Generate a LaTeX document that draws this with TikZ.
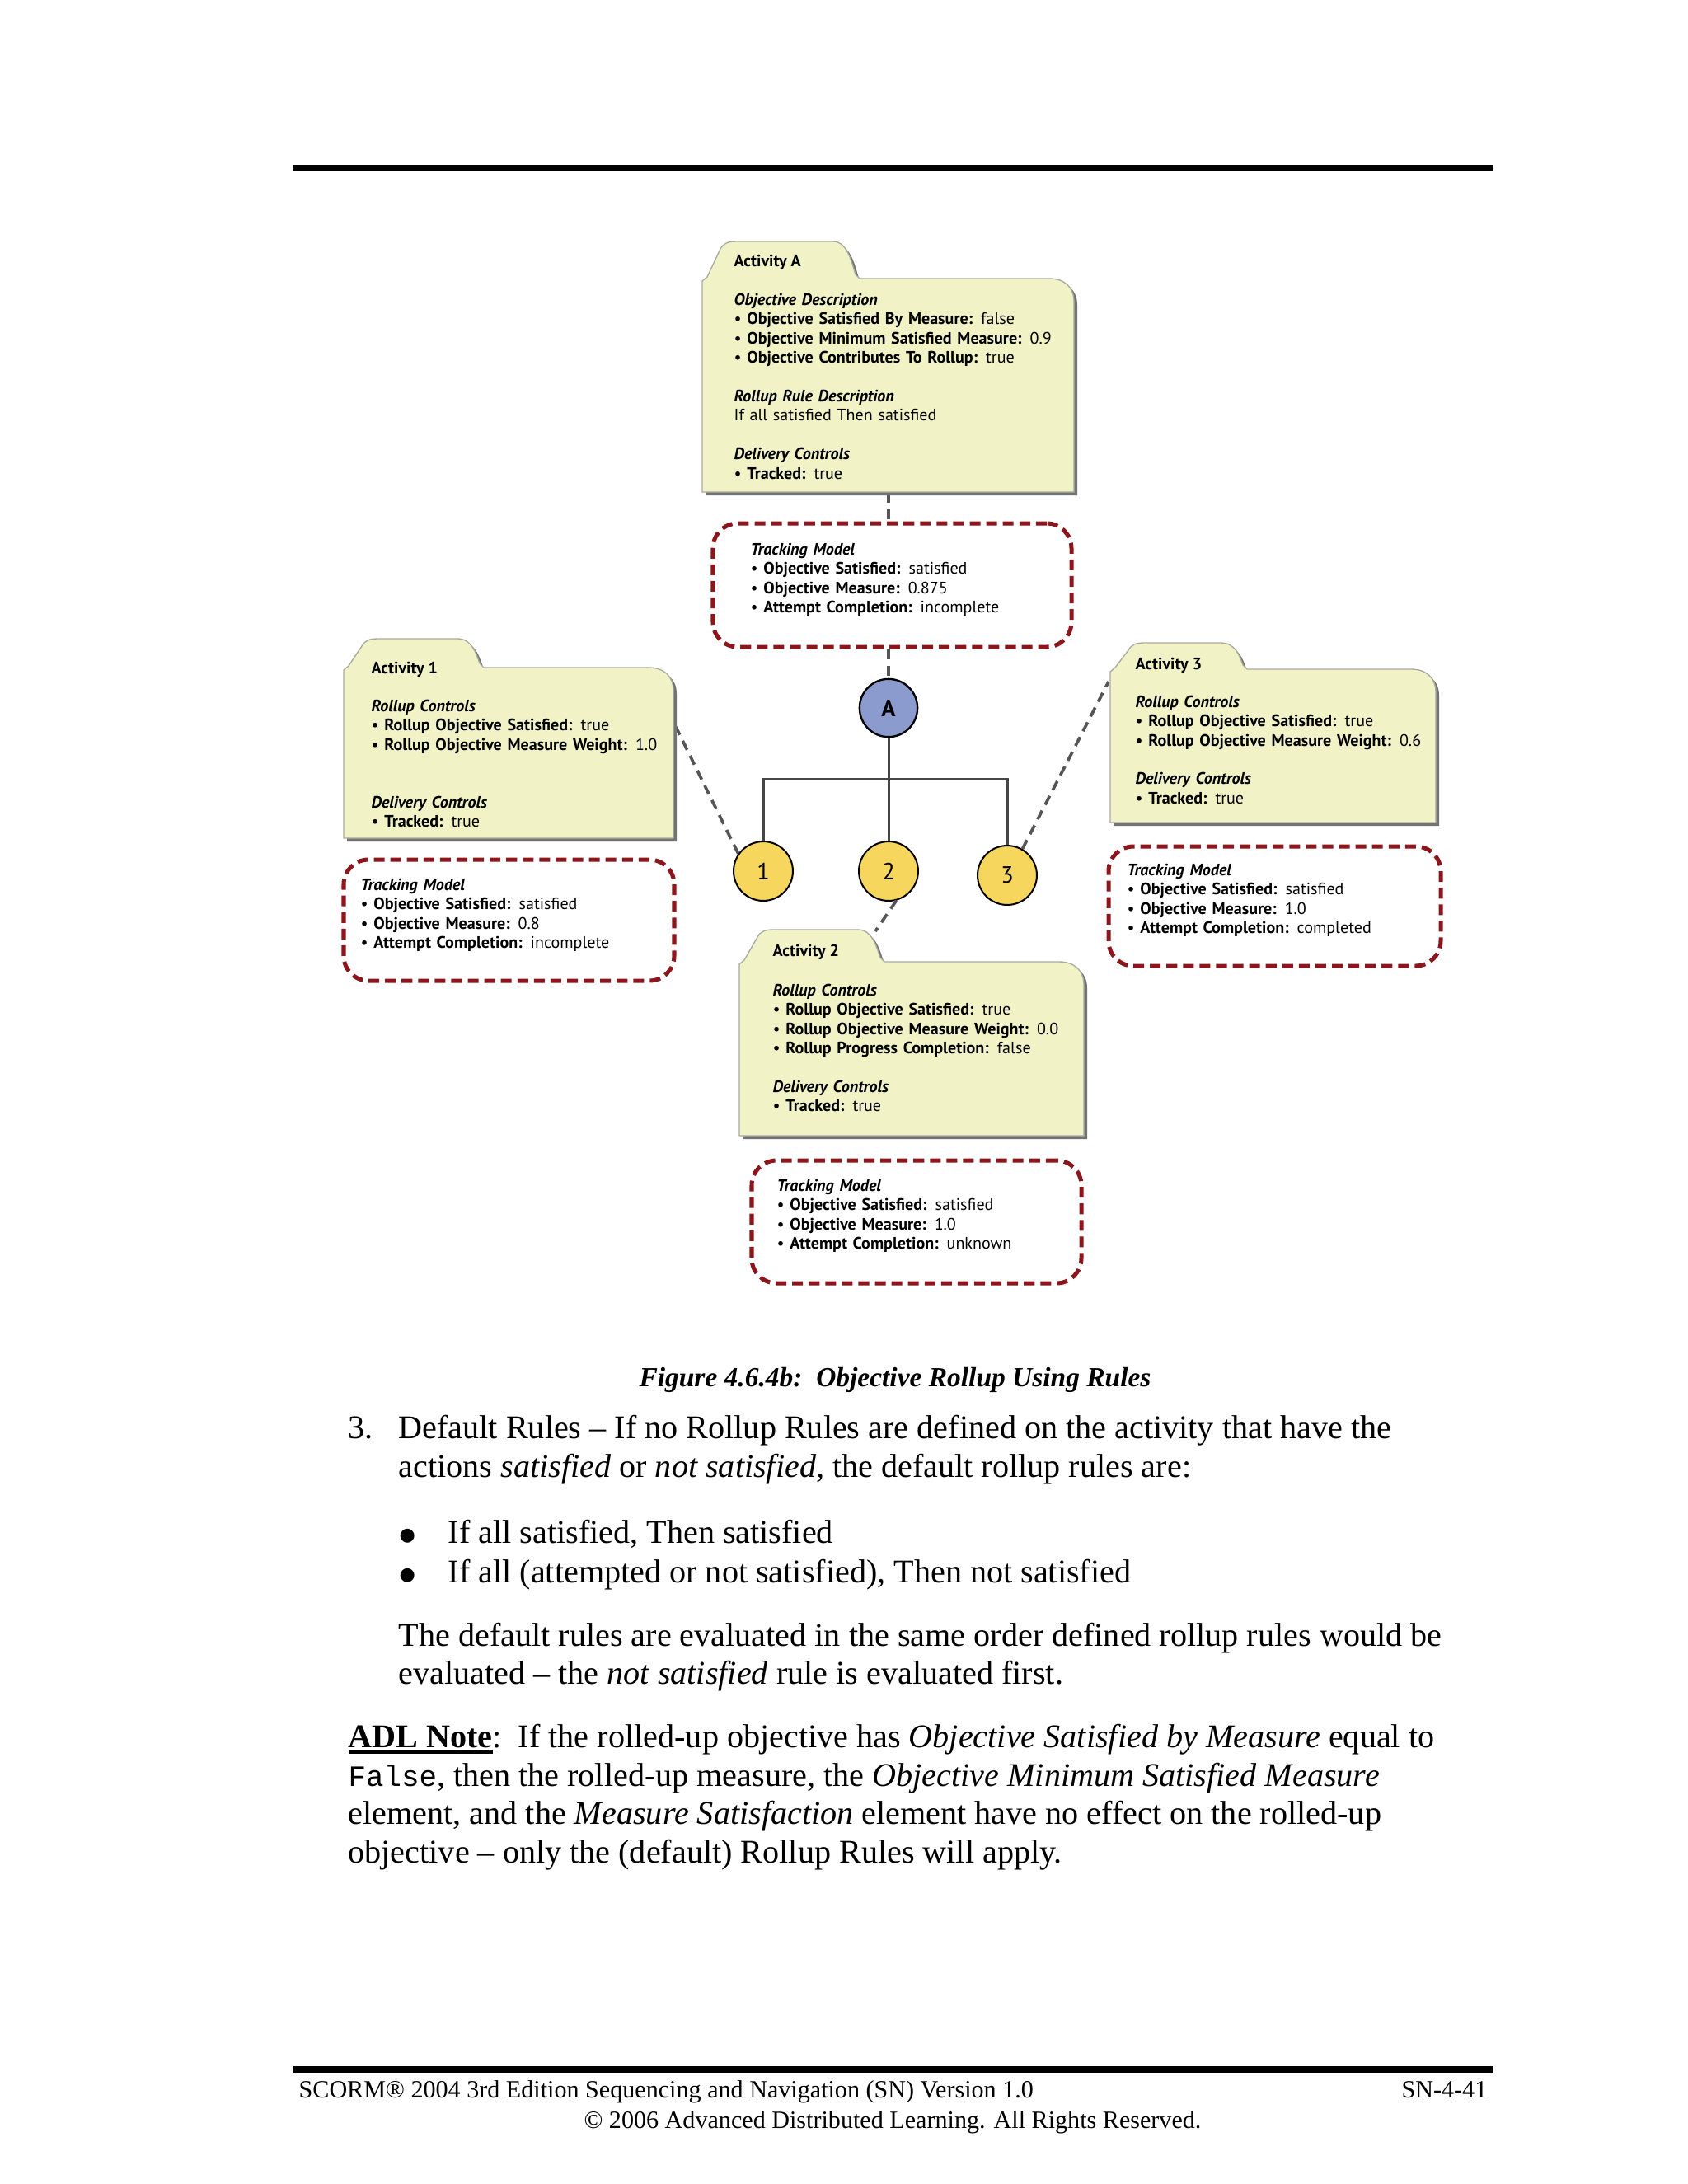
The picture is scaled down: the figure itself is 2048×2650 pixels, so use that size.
\documentclass[tikz,border=0pt]{standalone}
\usepackage{fontspec}
\setmainfont{Liberation Serif}
\newfontfamily\dfont{PT Sans}
\newfontfamily\monof{Liberation Mono}
\newfontfamily\symf{DejaVu Sans}
\usetikzlibrary{fit}
\definecolor{folderfill}{RGB}{241,243,199}
\definecolor{foldershadow}{RGB}{115,115,115}
\definecolor{folderedge}{RGB}{170,170,160}
\definecolor{trkred}{RGB}{140,22,28}
\definecolor{conngray}{RGB}{85,85,85}
\definecolor{nodeA}{RGB}{140,155,205}
\definecolor{nodeY}{RGB}{246,214,92}
\definecolor{treegray}{RGB}{70,70,70}
% L T H B R tabR
\newcommand\fpath[6]{(#1,#3+3) -- (#1+6,#3-2) -- (#1+22,#2+9) .. controls (#1+26,#2+2) and (#1+31,#2) .. (#1+42,#2) -- (#6-32,#2) .. controls (#6-14,#2) and (#6-9,#3-16) .. (#6-5,#3-5) -- (#6,#3) -- (#5-30,#3) .. controls (#5-12,#3) and (#5,#3+10) .. (#5,#3+28) -- (#5,#4) -- (#1,#4) -- cycle}
\newcommand\folder[6]{%
  \fill[foldershadow,shift={(4,4)}] \fpath{#1}{#2}{#3}{#4}{#5}{#6};
  \filldraw[fill=folderfill,draw=folderedge,line width=0.4pt] \fpath{#1}{#2}{#3}{#4}{#5}{#6};}
\newcommand\bu[2]{\textbullet\ \textbf{#1} #2}
\newcommand\hd[1]{\textbf{\textit{#1}}}
\newcommand\bigbul{\raisebox{0.9pt}{\symf\fontsize{6.6}{7}\selectfont ●}}
\newcommand\thickul[1]{\setbox0\hbox{#1}\rlap{\rule[-2.4pt]{\wd0}{1.1pt}}\box0}
\tikzset{
  dtext/.style={anchor=base west, inner sep=0, text width=200pt, align=left,
    font=\dfont\fontsize{6}{7.02}\selectfont},
  dtitle/.style={anchor=base west, inner sep=0, font=\dfont\bfseries\fontsize{6}{7.02}\selectfont},
  body/.style={anchor=base west, inner sep=0, font=\fontsize{12}{13.9}\selectfont},
  foot/.style={inner sep=0, font=\fontsize{9}{11}\selectfont},
  trk/.style={draw=trkred, line width=1.5pt, dash pattern=on 3.9pt off 2.1pt, rounded corners=9pt, inner sep=0},
  conn/.style={draw=conngray, line width=1.1pt, dash pattern=on 3.6pt off 2.4pt},
  tree/.style={draw=treegray, line width=0.9pt},
  anode/.style={circle, draw=black, line width=0.7pt, fill=nodeA, minimum size=21pt, inner sep=0,
    font=\dfont\bfseries\fontsize{8.5}{10}\selectfont},
  ynode/.style={circle, draw=black, line width=0.6pt, fill=nodeY, minimum size=21.5pt, inner sep=0,
    font=\dfont\fontsize{8.5}{10}\selectfont},
  hidden/.style={inner sep=0, draw=none}
}
\begin{document}
\begin{tikzpicture}[x=0.29883pt, y=-0.29883pt]
\fill[white] (0,0) rectangle (2048,2650);
\useasboundingbox (0,0) rectangle (2048,2650);

% page rules
\fill[black] (356,200) rectangle (1812,207);
\fill[black] (356,2507) rectangle (1812,2515);

% tree nodes
\node[anode] (circA) at (1078,859) {A};
\node[ynode] (circ1) at (926,1057) {1};
\node[ynode] (circ2) at (1078,1057) {2};
\node[ynode] (circ3) at (1222,1062) {3};

% tracking boxes
\node[trk, fit={(865,635) (1300,785)}] (trkA) {};
\node[trk, fit={(417,1043) (818,1190)}] (trk1) {};
\node[trk, fit={(1345,1027) (1748,1172)}] (trk3) {};
\node[trk, fit={(912,1408) (1312,1557)}] (trk2) {};

% activity bodies (names)
\node[hidden, fit={(852,338) (1303,597)}] (actA) {};
\node[hidden, fit={(417,810) (817,1017)}] (act1) {};
\node[hidden, fit={(1347,812) (1742,998)}] (act3) {};
\node[hidden, fit={(897,1167) (1315,1378)}] (act2) {};
\coordinate (a1r) at (820,882);
\coordinate (a3l) at (1345,827);
\coordinate (a2t) at (1062,1130);

% connectors
\draw[tree] (circA) -- (circ2);
\draw[tree] (circ1.north) -- ++(0,-75) -| (circ3.north);
\draw[conn] (actA.south -| circA) -- (trkA.north -| circA);
\draw[conn] (trkA.south -| circA) -- (circA.north);
\draw[conn] (circ1.145) -- (a1r);
\draw[conn] (circ3.60) -- (a3l);
\draw[conn] (circ2.-75) -- (a2t);

% folders
\folder{852}{293}{338}{597}{1303}{1043}
\folder{417}{775}{810}{1017}{817}{587}
\folder{1347}{780}{812}{998}{1742}{1513}
\folder{897}{1128}{1167}{1378}{1315}{1073}

% Activity A
\node[dtitle] (tA) at (890,323) {Activity A};
\node[dtext] (bA) at (890,370) {\hd{Objective Description}\\
\bu{Objective Satisfied By Measure:}{false}\\
\bu{Objective Minimum Satisfied Measure:}{0.9}\\
\bu{Objective Contributes To Rollup:}{true}\\[7.02pt]
\hd{Rollup Rule Description}\\
If all satisfied Then satisfied\\[7.02pt]
\hd{Delivery Controls}\\
\bu{Tracked:}{true}};
\node[dtext] (mA) at (910,673) {\hd{Tracking Model}\\
\bu{Objective Satisfied:}{satisfied}\\
\bu{Objective Measure:}{0.875}\\
\bu{Attempt Completion:}{incomplete}};

% Activity 1
\node[dtitle] (t1) at (450,817) {Activity 1};
\node[dtext] (b1) at (450,863) {\hd{Rollup Controls}\\
\bu{Rollup Objective Satisfied:}{true}\\
\bu{Rollup Objective Measure Weight:}{1.0}\\[14.04pt]
\hd{Delivery Controls}\\
\bu{Tracked:}{true}};
\node[dtext] (m1) at (437,1080) {\hd{Tracking Model}\\
\bu{Objective Satisfied:}{satisfied}\\
\bu{Objective Measure:}{0.8}\\
\bu{Attempt Completion:}{incomplete}};

% Activity 3
\node[dtitle] (t3) at (1377,812) {Activity 3};
\node[dtext] (b3) at (1377,858) {\hd{Rollup Controls}\\
\bu{Rollup Objective Satisfied:}{true}\\
\bu{Rollup Objective Measure Weight:}{0.6}\\[7.02pt]
\hd{Delivery Controls}\\
\bu{Tracked:}{true}};
\node[dtext] (m3) at (1367,1062) {\hd{Tracking Model}\\
\bu{Objective Satisfied:}{satisfied}\\
\bu{Objective Measure:}{1.0}\\
\bu{Attempt Completion:}{completed}};

% Activity 2
\node[dtitle] (t2) at (937,1160) {Activity 2};
\node[dtext] (b2) at (937,1208) {\hd{Rollup Controls}\\
\bu{Rollup Objective Satisfied:}{true}\\
\bu{Rollup Objective Measure Weight:}{0.0}\\
\bu{Rollup Progress Completion:}{false}\\[7.02pt]
\hd{Delivery Controls}\\
\bu{Tracked:}{true}};
\node[dtext] (m2) at (942,1445) {\hd{Tracking Model}\\
\bu{Objective Satisfied:}{satisfied}\\
\bu{Objective Measure:}{1.0}\\
\bu{Attempt Completion:}{unknown}};

% caption and body text
\node[body, anchor=base, font=\fontsize{10}{12}\selectfont] (cap) at (1086,1682) {\textbf{\textit{Figure 4.6.4b:\ \ Objective Rollup Using Rules}}};
\node[body] (n3) at (422,1745) {3.};
\node[body] (p1) at (483,1745) {Default Rules – If no Rollup Rules are defined on the activity that have the};
\node[body] (p2) at (483,1792) {actions \textit{satisfied} or \textit{not satisfied}, the default rollup rules are:};
\node[body] (d1) at (484,1872) {\bigbul};
\node[body] (l1) at (543,1872) {If all satisfied, Then satisfied};
\node[body] (d2) at (484,1920) {\bigbul};
\node[body] (l2) at (543,1920) {If all (attempted or not satisfied), Then not satisfied};
\node[body] (q1) at (483,1997) {The default rules are evaluated in the same order defined rollup rules would be};
\node[body] (q2) at (483,2043) {evaluated – the \textit{not satisfied} rule is evaluated first.};
\node[body] (r1) at (422,2120) {\thickul{\textbf{ADL Note}}:\ \ If the rolled-up objective has \textit{Objective Satisfied by Measure} equal to};
\node[body] (r2) at (422,2167) {{\monof\fontsize{10.7}{13.9}\selectfont False}, then the rolled-up measure, the \textit{Objective Minimum Satisfied Measure}};
\node[body] (r3) at (422,2213) {element, and the \textit{Measure Satisfaction} element have no effect on the rolled-up};
\node[body] (r4) at (422,2260) {objective – only the (default) Rollup Rules will apply.};

% footer
\node[foot, anchor=base west] (f1) at (362,2545) {SCORM® 2004 3rd Edition Sequencing and Navigation (SN) Version 1.0};
\node[foot, anchor=base east] (f2) at (1805,2545) {SN-4-41};
\node[foot, anchor=base] (f3) at (1083,2582) {© 2006 Advanced Distributed Learning. All Rights Reserved.};
\end{tikzpicture}
\end{document}
